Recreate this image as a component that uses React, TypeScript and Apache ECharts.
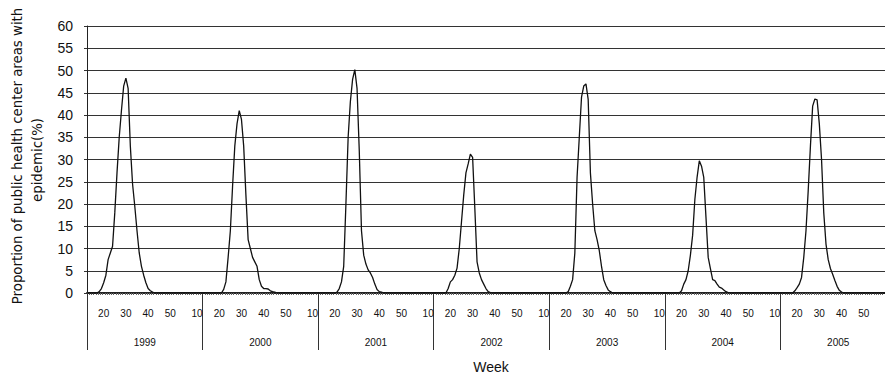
import React, { useEffect, useRef } from "react";
import * as echarts from "echarts";

// Fiscal-year weeks: week 13..52, then 1..12
const WEEKS = [
  13, 14, 15, 16, 17, 18, 19, 20, 21, 22, 23, 24, 25, 26, 27, 28, 29, 30, 31, 32,
  33, 34, 35, 36, 37, 38, 39, 40, 41, 42, 43, 44, 45, 46, 47, 48, 49, 50, 51, 52,
  1, 2, 3, 4, 5, 6, 7, 8, 9, 10, 11, 12,
];

const YEARS = ["1999", "2000", "2001", "2002", "2003", "2004", "2005"];

const FY1999 = [0, 0, 0, 0, 0, 0.3, 1, 2.3, 4, 7.5, 9, 10.5, 18, 27, 35, 41, 46.5, 48.3, 46, 33, 24.5, 19.5, 14, 9, 6, 4, 2.3, 1, 0.5, 0.2, 0, 0, 0, 0, 0, 0, 0, 0, 0, 0, 0, 0, 0, 0, 0, 0, 0, 0, 0, 0, 0, 0];
const FY2000 = [0, 0, 0, 0, 0, 0, 0, 0, 0, 0.8, 2.5, 8, 14, 24, 33, 38, 41, 39, 33, 22, 12, 10, 8, 7, 6, 3, 1.5, 1, 1, 0.9, 0.5, 0.3, 0.2, 0, 0, 0, 0, 0, 0, 0, 0, 0, 0, 0, 0, 0, 0, 0, 0, 0, 0, 0];
const FY2001 = [0, 0, 0, 0, 0, 0, 0, 0, 0.2, 1, 2.5, 6, 20, 35, 43, 48, 50.2, 46, 32, 14, 8.5, 6.5, 5.2, 4.5, 3.5, 2, 0.8, 0.3, 0.2, 0, 0, 0, 0, 0, 0, 0, 0, 0, 0, 0, 0, 0, 0, 0, 0, 0, 0, 0, 0, 0, 0, 0];
const FY2002 = [0, 0, 0, 0, 0, 0, 1, 2.5, 3, 4, 5.6, 10, 16, 22, 27, 29, 31.2, 30.5, 19, 7, 4.5, 3, 2, 1, 0.3, 0.1, 0, 0, 0, 0, 0, 0, 0, 0, 0, 0, 0, 0, 0, 0, 0, 0, 0, 0, 0, 0, 0, 0, 0, 0, 0, 0];
const FY2003 = [0, 0, 0, 0, 0, 0, 0, 0, 0.3, 1.5, 3, 9, 26, 35, 44, 46.5, 47, 43.5, 27, 20, 14, 12, 9.5, 6, 3, 1.7, 0.7, 0.3, 0, 0, 0, 0, 0, 0, 0, 0, 0, 0, 0, 0, 0, 0, 0, 0, 0, 0, 0, 0, 0, 0, 0, 0];
const FY2004 = [0, 0, 0, 0, 0, 0, 0, 0.5, 2, 3, 5, 8.5, 13, 21, 26, 29.7, 28.5, 26, 17, 8, 5.5, 3, 2.8, 2, 1.3, 1.1, 0.7, 0.3, 0.1, 0, 0, 0, 0, 0, 0, 0, 0, 0, 0, 0, 0, 0, 0, 0, 0, 0, 0, 0, 0, 0, 0, 0];
const FY2005 = [0, 0, 0, 0, 0, 0, 0.5, 1.2, 2, 3.5, 8, 14, 23, 33, 42, 43.6, 43.4, 38, 30, 18, 11, 7.5, 5.5, 4.2, 2.8, 1.5, 0.6, 0.2, 0, 0, 0, 0, 0, 0, 0, 0, 0, 0, 0, 0, 0, 0, 0, 0, 0, 0, 0, 0, 0, 0, 0, 0];

const Y_TICKS = [0, 5, 10, 15, 20, 25, 30, 35, 40, 45, 50, 55, 60];

const FONT = "'Liberation Sans', Arial, sans-serif";

export default function App() {
  const ref = useRef<HTMLDivElement>(null);

  useEffect(() => {
    if (!ref.current) return;
    const chart = echarts.init(ref.current, null, { renderer: "svg" });
    const series = [FY1999, FY2000, FY2001, FY2002, FY2003, FY2004, FY2005];
    const values: number[] = [];
    const cats: string[] = [];
    series.forEach((arr, k) => {
      arr.forEach((v, i) => {
        values.push(v);
        cats.push(YEARS[k] + "-" + WEEKS[i]);
      });
    });

    chart.setOption({
      animation: false,
      backgroundColor: "#fff",
      grid: {
        left: 87,
        top: 26,
        width: 809,
        height: 267,
        containLabel: false,
        outerBoundsMode: "none",
      },
      xAxis: [
        {
          type: "category",
          data: cats,
          boundaryGap: true,
          axisLine: { show: true, lineStyle: { color: "#222", width: 2 } },
          axisTick: { show: true, interval: 0, length: 2, lineStyle: { color: "#666", width: 1 } },
          axisLabel: {
            interval: (idx: number) => WEEKS[idx % 52] % 10 === 0,
            formatter: (v: string) => v.split("-")[1],
            margin: 15,
            fontSize: 10,
            color: "#111",
            fontFamily: FONT,
          },
          splitLine: { show: false },
        },
        {
          type: "category",
          data: YEARS,
          position: "bottom",
          boundaryGap: true,
          axisLine: { show: false },
          axisTick: { show: true, interval: 0, length: 57, lineStyle: { color: "#333", width: 1 } },
          axisLabel: { margin: 44, fontSize: 10, color: "#111", fontFamily: FONT },
          splitLine: { show: false },
        },
      ],
      yAxis: {
        type: "value",
        min: Y_TICKS[0],
        max: Y_TICKS[Y_TICKS.length - 1],
        interval: 5,
        axisLine: { show: true, lineStyle: { color: "#222", width: 1 } },
        axisTick: { show: true, length: 3, lineStyle: { color: "#333" } },
        axisLabel: { margin: 14, fontSize: 14, color: "#111", fontFamily: FONT },
        splitLine: { show: true, lineStyle: { color: "#333", width: 1 } },
      },
      series: [
        {
          type: "line",
          data: values,
          xAxisIndex: 0,
          showSymbol: false,
          symbol: "none",
          lineStyle: { color: "#111", width: 1.3 },
        },
      ],
      graphic: [
        {
          type: "text",
          x: 17,
          y: 156,
          rotation: Math.PI / 2,
          style: {
            text: "Proportion of public health center areas with",
            fontSize: 13.3,
            fontFamily: "'DejaVu Sans', sans-serif",
            fill: "#111",
            textAlign: "center",
            textVerticalAlign: "middle",
          },
        },
        {
          type: "text",
          x: 37.5,
          y: 160,
          rotation: Math.PI / 2,
          style: {
            text: "epidemic(%)",
            fontSize: 13.3,
            fontFamily: "'DejaVu Sans', sans-serif",
            fill: "#111",
            textAlign: "center",
            textVerticalAlign: "middle",
          },
        },
        {
          type: "text",
          x: 491,
          y: 367,
          style: {
            text: "Week",
            fontSize: 14,
            fontFamily: FONT,
            fill: "#111",
            textAlign: "center",
            textVerticalAlign: "middle",
          },
        },
      ],
    });
    return () => chart.dispose();
  }, []);

  return (
    <div
      ref={ref}
      style={{ position: "fixed", left: 0, top: 0, width: 885, height: 379 }}
    />
  );
}
